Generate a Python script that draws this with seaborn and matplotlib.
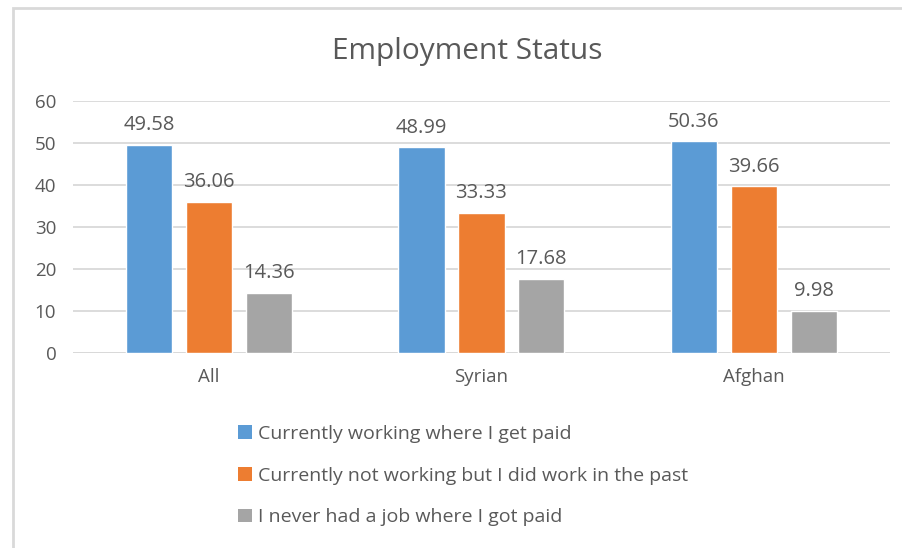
import matplotlib
matplotlib.use("Agg")
import matplotlib.pyplot as plt
import seaborn as sns
import pandas as pd
from matplotlib.patches import Rectangle, Patch

categories = ["All", "Syrian", "Afghan"]
series_names = [
    "Currently working where I get paid",
    "Currently not working but I did work in the past",
    "I never had a job where I got paid",
]
working = [49.58, 48.99, 50.36]
not_working = [36.06, 33.33, 39.66]
never = [14.36, 17.68, 9.98]
colors = ["#5B9BD5", "#ED7D31", "#A5A5A5"]

rows = []
for name, vals in zip(series_names, [working, not_working, never]):
    for c, v in zip(categories, vals):
        rows.append({"group": c, "status": name, "value": v})
df = pd.DataFrame(rows)

sns.set_theme(style="white")
font = ["Open Sans", "DejaVu Sans"]
plt.rcParams["font.family"] = font
txt = "#595959"

fig = plt.figure(figsize=(9.03, 5.48), dpi=100)
ax = fig.add_axes([0.0808, 0.3558, 0.9048, 0.4599])
sns.barplot(data=df, x="group", y="value", hue="status", palette=colors,
            order=categories, hue_order=series_names, width=0.66, gap=0.23,
            ax=ax, legend=False, saturation=1)
ax.set_ylim(0, 60)
ax.set_yticks(range(0, 61, 10))
ax.yaxis.grid(True, color="#D9D9D9", linewidth=1.3)
ax.set_axisbelow(True)
for s in ax.spines.values():
    s.set_visible(False)
ax.axhline(0, color="#D9D9D9", linewidth=1.3, zorder=0.5)
ax.set_xlabel("")
ax.set_ylabel("")
ax.tick_params(axis="both", length=0, labelsize=13.5, colors=txt)
ax.tick_params(axis="y", pad=12)
ax.tick_params(axis="x", pad=11)
for cont in ax.containers:
    ax.bar_label(cont, fmt="%.2f", padding=7, fontsize=14.5, color=txt)

fig.text(467/903, 1 - 51/548, "Employment Status", ha="center", va="center",
         fontsize=21.5, color=txt)

handles = [Patch(facecolor=c, edgecolor="none") for c in colors]
fig.legend(handles, series_names, loc="upper left",
           bbox_to_anchor=(238/903, 1 - 425/548), frameon=False,
           fontsize=14, labelcolor=txt, handlelength=0.7, handleheight=0.7,
           handletextpad=0.35, labelspacing=1.22, borderaxespad=0, borderpad=0)

fig.patches.append(Rectangle((13/903, -0.05), 1, 1.05 - 8/548, transform=fig.transFigure,
                             fill=False, edgecolor="#D9D9D9", linewidth=2))
fig.savefig("out.png", dpi=100, facecolor="white")
